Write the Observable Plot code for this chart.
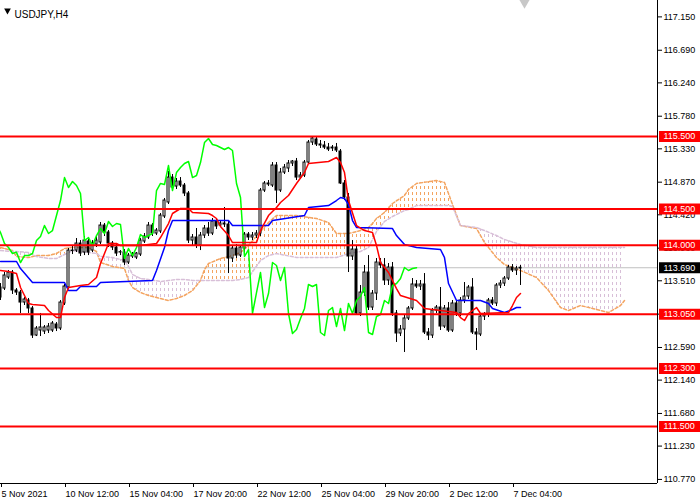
<!DOCTYPE html>
<html><head><meta charset="utf-8">
<script src="https://cdn.jsdelivr.net/npm/d3@7"></script>
<script src="https://cdn.jsdelivr.net/npm/@observablehq/plot@0.6"></script>
<style>body{margin:0;background:#fff}</style>
</head><body><div id="chart"></div>
<script>
// ---- DATA (USDJPY H4) ----
const opens = [113.417,113.403,113.555,113.624,113.376,113.348,113.210,113.238,113.128,112.755,112.824,112.810,112.824,112.824,112.907,112.852,113.197,113.417,113.927,113.927,114.024,113.900,114.052,113.927,114.010,114.038,114.272,114.176,114.024,113.969,113.900,113.900,113.762,113.845,113.831,113.872,114.052,114.107,114.272,114.162,114.190,114.397,114.590,114.934,114.810,114.879,114.824,114.714,114.065,114.107,113.996,114.134,114.231,114.162,114.328,114.272,114.300,114.286,113.817,113.955,113.858,113.955,114.148,114.107,114.134,114.162,114.755,114.852,114.824,115.100,114.755,115.003,115.059,115.128,115.155,114.934,114.962,115.141,115.417,115.459,115.390,115.376,115.348,115.335,115.348,115.293,114.852,114.659,113.845,113.941,113.059,113.348,113.624,113.141,113.334,113.762,113.721,113.514,113.693,113.059,112.783,112.838,112.990,113.128,113.459,113.431,113.459,112.797,112.755,113.100,113.141,112.879,113.128,112.824,113.197,113.059,113.238,113.293,113.417,112.797,112.769,113.017,113.045,113.238,113.197,113.445,113.472,113.541,113.693,113.652,113.679];
const highs = [113.472,113.624,113.652,113.652,113.403,113.376,113.279,113.266,113.155,112.879,113.059,112.893,112.921,112.948,112.934,113.238,113.459,113.955,113.983,114.093,114.065,114.121,114.107,114.065,114.121,114.314,114.300,114.203,114.052,114.010,113.927,113.941,113.886,113.900,113.900,114.093,114.162,114.314,114.300,114.231,114.438,114.645,115.017,114.976,114.921,114.934,114.852,114.741,114.148,114.231,114.176,114.272,114.314,114.369,114.355,114.341,114.521,114.328,113.996,114.010,113.996,114.176,114.176,114.176,114.203,114.783,114.879,114.893,115.141,115.141,115.059,115.114,115.169,115.169,115.197,115.003,115.169,115.445,115.500,115.500,115.445,115.431,115.404,115.376,115.404,115.321,114.893,114.714,114.065,113.983,113.445,113.721,113.858,113.376,113.817,113.817,113.817,113.748,113.762,113.100,112.893,113.031,113.155,113.541,113.514,113.514,113.610,112.852,113.128,113.169,113.417,113.169,113.210,113.238,113.238,113.279,113.486,113.445,113.541,112.852,113.045,113.072,113.266,113.279,113.472,113.514,113.569,113.721,113.734,113.707,113.721];
const lows = [113.238,113.376,113.528,113.321,113.307,113.059,113.169,113.059,112.714,112.741,112.741,112.769,112.783,112.797,112.810,112.824,113.169,113.390,113.872,113.900,113.845,113.858,113.858,113.900,113.969,114.010,114.121,113.969,113.927,113.845,113.858,113.721,113.734,113.817,113.803,113.845,114.024,114.079,114.121,114.134,114.162,114.369,114.562,114.755,114.769,114.797,114.672,114.024,113.996,113.955,113.927,114.093,114.121,114.134,114.217,114.245,114.245,113.610,113.762,113.817,113.831,113.872,114.065,114.065,114.093,114.121,114.728,114.810,114.797,114.576,114.728,114.976,115.003,115.086,114.893,114.907,114.934,115.114,115.376,115.362,115.335,115.321,115.293,115.293,115.279,114.838,114.617,113.624,113.790,113.031,113.017,113.293,113.100,113.100,113.238,113.679,113.445,113.445,113.017,112.659,112.741,112.521,112.962,113.100,113.403,113.376,112.769,112.686,112.714,113.059,112.824,112.852,112.797,112.797,113.017,113.017,113.197,113.252,112.769,112.548,112.741,112.962,113.003,113.169,113.155,113.403,113.431,113.514,113.624,113.583,113.445];
const closes = [113.279,113.583,113.624,113.376,113.348,113.210,113.252,113.128,112.755,112.852,112.866,112.866,112.879,112.921,112.852,113.210,113.431,113.927,113.920,114.024,113.886,114.065,113.900,114.024,114.065,114.272,114.176,114.024,113.969,113.886,113.905,113.762,113.858,113.858,113.886,114.065,114.121,114.272,114.162,114.203,114.410,114.617,114.934,114.797,114.879,114.824,114.714,114.065,114.107,113.996,114.134,114.231,114.162,114.328,114.259,114.300,114.286,113.817,113.955,113.858,113.969,114.148,114.107,114.134,114.162,114.755,114.852,114.838,115.100,114.755,115.003,115.072,115.128,115.155,114.934,114.962,115.141,115.417,115.473,115.390,115.376,115.348,115.321,115.348,115.307,114.852,114.659,113.845,113.941,113.059,113.348,113.624,113.141,113.334,113.762,113.721,113.514,113.693,113.059,112.783,112.838,112.990,113.128,113.459,113.431,113.459,112.797,112.755,113.100,113.141,112.879,113.128,112.824,113.197,113.059,113.238,113.293,113.417,112.797,112.769,113.017,113.045,113.238,113.197,113.445,113.472,113.541,113.693,113.652,113.679,113.690];

// Ichimoku lines: [bar, price]
const tenkan = [[0,113.652],[2,113.638],[4,113.610],[5,113.417],[7,113.197],[8,113.183],[11,113.169],[12,113.100],[14,113.003],[15,113.003],[16,113.279],[17,113.417],[20,113.445],[22,113.459],[24,113.555],[25,113.748],[27,114.024],[29,114.024],[30,113.996],[35,113.996],[39,114.024],[40,114.107],[42,114.300],[43,114.438],[45,114.507],[47,114.507],[48,114.452],[52,114.438],[53,114.410],[54,114.369],[55,114.259],[57,114.134],[58,114.038],[64,114.038],[65,114.203],[67,114.410],[69,114.521],[70,114.590],[72,114.686],[74,114.852],[76,115.003],[77,115.128],[82,115.155],[84,115.210],[85,115.141],[86,115.003],[87,114.617],[89,114.272],[91,114.203],[93,114.176],[94,113.996],[95,113.762],[97,113.624],[99,113.403],[100,113.307],[104,113.238],[106,113.128],[114,113.072],[115,113.003],[116,112.962],[117,113.059],[119,113.141],[120,113.059],[127,113.072],[128,113.169],[129,113.279],[130,113.334]];
const kijun = [[0,113.776],[4,113.776],[5,113.679],[8,113.486],[16,113.486],[17,113.376],[19,113.376],[20,113.431],[24,113.431],[25,113.486],[38,113.514],[39,113.652],[41,113.969],[42,114.203],[43,114.341],[57,114.341],[58,114.272],[67,114.272],[68,114.341],[76,114.410],[77,114.521],[82,114.548],[84,114.617],[85,114.659],[86,114.645],[87,114.562],[88,114.341],[89,114.245],[98,114.231],[99,114.134],[101,114.010],[104,113.969],[110,113.941],[111,113.831],[112,113.472],[114,113.238],[120,113.238],[122,113.197],[123,113.128],[126,113.072],[128,113.114],[129,113.141],[130,113.141]];
const cloudBar = [0,3,4,7,9,12,14,16,18,22,24,25,28,31,32,33,35,37,40,42,44,46,48,50,51,52,55,58,60,62,65,67,69,74,79,82,84,87,90,92,93,94,96,98,101,102,104,109,111,112,113,115,119,121,124,126,130,134,137,140,142,145,148,152,155,156];
const spanA = [113.969,113.927,113.845,113.831,113.858,113.858,113.886,113.955,113.969,113.969,113.914,113.762,113.707,113.679,113.514,113.417,113.348,113.307,113.266,113.238,113.266,113.307,113.376,113.514,113.665,113.748,113.817,113.858,113.900,113.996,114.190,114.314,114.410,114.410,114.369,114.314,114.162,114.162,114.203,114.245,114.300,114.369,114.452,114.576,114.686,114.769,114.852,114.893,114.866,114.714,114.562,114.272,114.231,114.038,113.831,113.734,113.652,113.555,113.376,113.141,113.100,113.169,113.128,113.072,113.169,113.238];
const spanB = [113.927,113.914,113.914,113.900,113.845,113.817,113.817,113.872,113.927,113.900,113.886,113.845,113.831,113.790,113.707,113.597,113.541,113.528,113.500,113.514,113.528,113.528,113.514,113.514,113.514,113.514,113.514,113.514,113.528,113.555,113.790,113.858,113.886,113.831,113.831,113.831,113.831,113.886,113.914,113.969,114.079,114.190,114.328,114.397,114.479,114.493,114.548,114.548,114.548,114.548,114.534,114.272,114.245,114.203,114.134,114.079,114.010,113.969,113.969,113.969,113.969,113.969,113.969,113.969,113.969,113.969];

const levelPrices = [115.5, 114.5, 114.0, 113.05, 112.3, 111.5];
const bidPrice = 113.69;
const priceTicks = [117.15,116.69,116.24,115.78,115.33,114.87,114.42,113.96,113.51,113.05,112.59,112.14,111.68,111.23,110.77];
const timeTickBars = [0,16,32,48,64,80,96,112,128];
const timeTickLabels = ["5 Nov 2021","10 Nov 12:00","15 Nov 04:00","17 Nov 20:00","22 Nov 12:00","25 Nov 04:00","29 Nov 20:00","2 Dec 12:00","7 Dec 04:00"];
const symbolTitle = "USDJPY,H4";
const CHIKOU_SHIFT = 26;

// ---- LAYOUT ----
const W = 700, H = 500, mR = 43, mB = 17;
const PX_PER_BAR = 4;
const plotW = W - mR;
const xDomain = [0, plotW / PX_PER_BAR];
const yTop = 117.376, PX_PER_YEN = 72.5;
const yBottom = yTop - (H - mB) / PX_PER_YEN;
const pxToBar = px => px / PX_PER_BAR;
const FONT = "'Liberation Sans', Arial, sans-serif";

const candles = opens.map((o, i) => ({i, o, h: highs[i], l: lows[i], c: closes[i]}));
const chikou = closes.map((c, k) => ({i: k - CHIKOU_SHIFT, v: c})).filter(d => d.i >= -1);
const cloud = cloudBar.map((b, j) => ({i: b, a: spanA[j], b: spanB[j]}));

const chart = Plot.plot({
  width: W, height: H,
  marginTop: 0, marginBottom: mB, marginLeft: 0, marginRight: mR,
  x: {domain: xDomain, axis: null, label: null},
  y: {domain: [yBottom, yTop], axis: null, label: null},
  color: {type: "identity"},
  style: {background: "#fff", fontFamily: FONT, overflow: "visible"},
  marks: [
    Plot.ruleY([bidPrice], {stroke: "#c0c0c0"}),
    // four area marks, in this order: kumo up, kumo down, clip up, clip down
    Plot.areaY(cloud, {x: "i", y1: "a", y2: "b", fill: "url(#kumoUp)"}),
    Plot.areaY(cloud, {x: "i", y1: "a", y2: "b", fill: "url(#kumoDown)"}),
    Plot.areaY(cloud, {x: "i", y1: "b", y2: () => yTop, fill: "#000"}),
    Plot.areaY(cloud, {x: "i", y1: "a", y2: () => yTop, fill: "#000"}),
    Plot.line(cloud, {x: "i", y: "a", stroke: "#F4A460", strokeDasharray: "3,2"}),
    Plot.line(cloud, {x: "i", y: "b", stroke: "#D8BFD8", strokeDasharray: "3,2"}),
    Plot.ruleX(candles, {x: "i", y1: "l", y2: "h", stroke: "#000"}),
    Plot.rect(candles, {x1: d => d.i - 0.25, x2: d => d.i + 0.25, y1: "o", y2: "c",
      fill: d => d.c >= d.o ? "#fff" : "#000", stroke: "#000"}),
    Plot.line(chikou, {x: "i", y: "v", stroke: "#00ff00", clip: true}),
    Plot.line(kijun, {x: d => d[0], y: d => d[1], stroke: "#0000ff"}),
    Plot.line(tenkan, {x: d => d[0], y: d => d[1], stroke: "#ff0000"}),
    Plot.ruleY(levelPrices, {stroke: "#ff0000", strokeWidth: 2}),
    Plot.ruleX([xDomain[1]], {stroke: "#000"}),
    Plot.ruleY([yBottom], {stroke: "#000"}),
    Plot.axisY(priceTicks, {anchor: "right", label: null, tickSize: 4, tickPadding: 2, tickFormat: d => d.toFixed(3), fontSize: 9, fill: "#000"}),
    Plot.axisX(timeTickBars, {anchor: "bottom", label: null, tickSize: 4, tickPadding: 3, textAnchor: "start", dx: 1,
      tickFormat: d => timeTickLabels[timeTickBars.indexOf(d)], fontSize: 9, fill: "#000"}),
    Plot.ruleY(levelPrices, {y: d => d, x1: () => pxToBar(659), x2: () => pxToBar(700), stroke: "#ff0000", strokeWidth: 11}),
    Plot.text(levelPrices, {y: d => d, x: () => pxToBar(663), text: d => d.toFixed(3), fill: "#fff", textAnchor: "start", fontSize: 9}),
    Plot.ruleY([bidPrice], {y: d => d, x1: () => pxToBar(659), x2: () => pxToBar(700), stroke: "#000", strokeWidth: 11}),
    Plot.text([bidPrice], {y: d => d, x: () => pxToBar(663), text: d => d.toFixed(3), fill: "#fff", textAnchor: "start", fontSize: 9}),
    Plot.dot([0], {frameAnchor: "top-left", dx: 7, dy: 10, symbol: "triangle", r: 2.5, fill: "#000", rotate: 180}),
    Plot.text([symbolTitle], {frameAnchor: "top-left", dx: 14, dy: 10, textAnchor: "start", fontSize: 10, fill: "#000"}),
    Plot.dot([0], {x: () => pxToBar(524), frameAnchor: "top", dy: 2, symbol: "triangle", r: 4, fill: "#c8c8c8", rotate: 180})
  ]
});

// hatch patterns + clipping of the kumo by the sign of spanA - spanB
const ns = "http://www.w3.org/2000/svg";
const defs = document.createElementNS(ns, "defs");
chart.insertBefore(defs, chart.firstChild);
const areaGroups = Array.from(chart.querySelectorAll('g[aria-label="area"]'));
function offsetOf(g) {
  const t = (g && g.getAttribute("transform")) || "";
  const m = t.match(/translate\(([-\d.]+)/);
  return m ? +m[1] : 0;
}
function makePattern(id, color, off) {
  const p = document.createElementNS(ns, "pattern");
  p.setAttribute("id", id); p.setAttribute("patternUnits", "userSpaceOnUse");
  p.setAttribute("x", -off); p.setAttribute("y", -off);
  p.setAttribute("width", 4); p.setAttribute("height", 6);
  const r = document.createElementNS(ns, "rect");
  r.setAttribute("x", 0); r.setAttribute("y", 0); r.setAttribute("width", 1); r.setAttribute("height", 3);
  r.setAttribute("fill", color);
  p.appendChild(r); defs.appendChild(p);
}
function clipTo(targetG, clipG, id) {
  if (!targetG || !clipG) return;
  const src = clipG.querySelector("path");
  const cp = document.createElementNS(ns, "clipPath"); cp.setAttribute("id", id);
  const p = document.createElementNS(ns, "path"); p.setAttribute("d", src.getAttribute("d"));
  cp.appendChild(p); defs.appendChild(cp);
  clipG.remove();
  targetG.querySelectorAll("path").forEach(q => q.setAttribute("clip-path", `url(#${id})`));
}
const off = offsetOf(areaGroups[0]);
makePattern("kumoUp", "#F4A460", off);
makePattern("kumoDown", "#D8BFD8", off);
clipTo(areaGroups[0], areaGroups[2], "clipUp");
clipTo(areaGroups[1], areaGroups[3], "clipDown");

document.getElementById("chart").appendChild(chart);
</script>
</body></html>
